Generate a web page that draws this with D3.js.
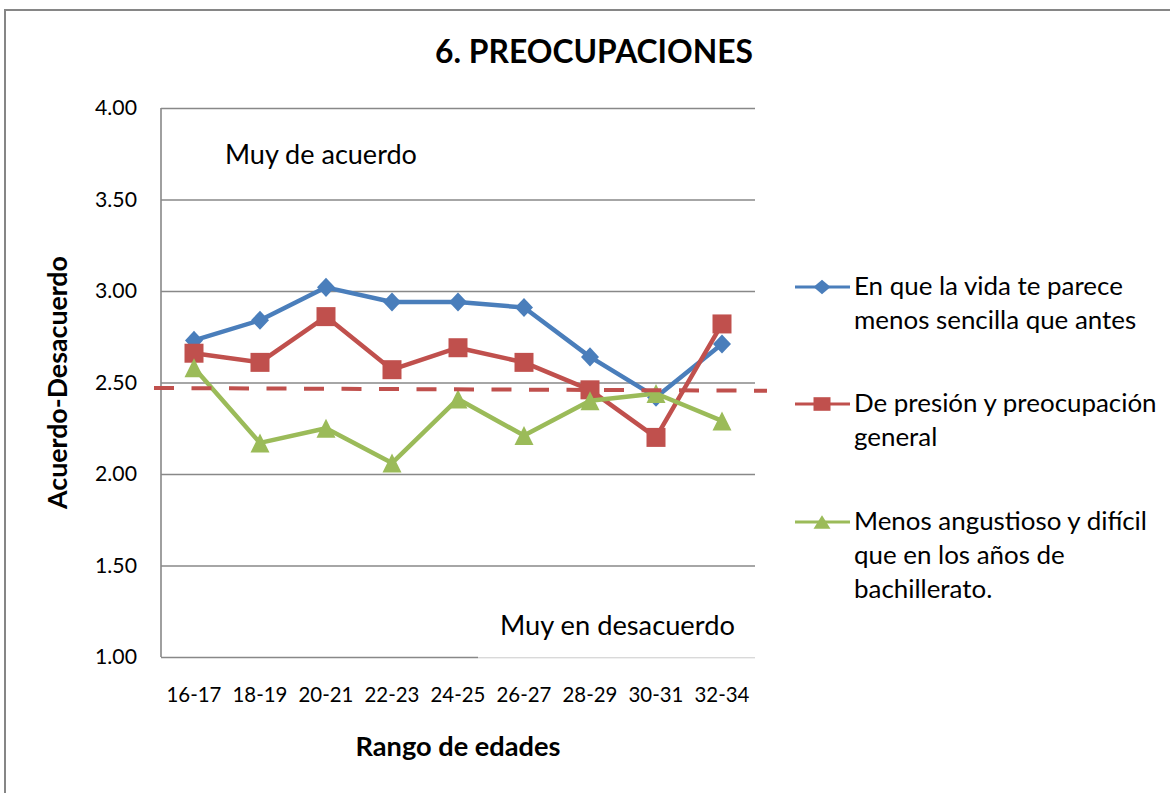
<!DOCTYPE html>
<html>
<head>
<meta charset="utf-8">
<script src="https://cdn.jsdelivr.net/npm/d3@7"></script>
<style>
  html, body { margin: 0; padding: 0; background: #fff; }
  svg { display: block; }
</style>
</head>
<body>
<svg id="chart" width="1170" height="793"></svg>
<script>
// ---------- data ----------
const title = "6. PREOCUPACIONES";
const xTitle = "Rango de edades";
const yTitle = "Acuerdo-Desacuerdo";
const categories = ["16-17", "18-19", "20-21", "22-23", "24-25", "26-27", "28-29", "30-31", "32-34"];
const yTicks = [1.00, 1.50, 2.00, 2.50, 3.00, 3.50, 4.00];
const seriesNames = [
  ["En que la vida te parece", "menos sencilla que antes"],
  ["De presión y preocupación", "general"],
  ["Menos angustioso y difícil", "que en los años de", "bachillerato."]
];
const vidaMenosSencilla = [2.73, 2.84, 3.02, 2.94, 2.94, 2.91, 2.64, 2.42, 2.71];
const presionPreocupacion = [2.66, 2.61, 2.86, 2.57, 2.69, 2.61, 2.46, 2.20, 2.82];
const menosAngustioso = [2.58, 2.17, 2.25, 2.06, 2.41, 2.21, 2.40, 2.44, 2.29];
const referenceLine = [2.47, 2.455];
const annotations = ["Muy de acuerdo", "Muy en desacuerdo"];

// ---------- styles ----------
const colors = ["#4A7EBB", "#C0504D", "#9BBB59"];
const font = "Lato, 'Open Sans', sans-serif";
const gridColor = "#888888";

const svg = d3.select("#chart");
const plot = { left: 161, right: 755, top: 108, bottom: 657 };

const x = d3.scaleBand().domain(categories).range([plot.left, plot.right]);
const cx = c => x(c) + x.bandwidth() / 2;
const y = d3.scaleLinear().domain([1, 4]).range([plot.bottom, plot.top]);

function fit(sel, target) {
  const w = sel.node().getComputedTextLength();
  const fs = parseFloat(sel.attr("font-size"));
  const nfs = fs * target / w;
  sel.attr("font-size", nfs);
  return nfs;
}

// chart border
svg.append("rect").attr("x", 5).attr("y", 10).attr("width", 1300).attr("height", 900)
  .attr("fill", "#fff").attr("stroke", "#868686").attr("stroke-width", 2);

// title
const t = svg.append("text").attr("x", 594).attr("y", 63).attr("text-anchor", "middle")
  .attr("font-family", font).attr("font-weight", "bold").attr("font-size", 30).attr("fill", "#000").text(title);
fit(t, 318);

// gridlines via axis
const yAxis = d3.axisLeft(y).tickValues(yTicks).tickSize(-(plot.right - plot.left)).tickFormat(d3.format(".2f")).tickPadding(24);
const gy = svg.append("g").attr("transform", `translate(${plot.left},0)`).call(yAxis);
gy.select(".domain").remove();
gy.selectAll(".tick line").attr("stroke", gridColor).attr("stroke-width", 1.6);
const yLabels = gy.selectAll(".tick text").attr("font-family", font).attr("font-size", 20).attr("fill", "#000");
const yfs = fit(d3.select(yLabels.nodes()[6]), 42);
yLabels.attr("font-size", yfs);

// left axis line
svg.append("line").attr("x1", plot.left).attr("x2", plot.left).attr("y1", plot.top).attr("y2", plot.bottom)
  .attr("stroke", gridColor).attr("stroke-width", 1.6);

// x axis labels
const xAxis = d3.axisBottom(x).tickSize(0).tickPadding(30);
const gx = svg.append("g").attr("transform", `translate(0,${plot.bottom})`).call(xAxis);
gx.select(".domain").remove();
const xLabels = gx.selectAll(".tick text").attr("font-family", font).attr("font-size", 20).attr("fill", "#000");
const xfs = fit(d3.select(xLabels.nodes()[0]), 55);
xLabels.attr("font-size", xfs);

// axis titles
const xt = svg.append("text").attr("x", (plot.left + plot.right) / 2).attr("y", 756).attr("text-anchor", "middle")
  .attr("font-family", font).attr("font-weight", "bold").attr("font-size", 22).text(xTitle);
fit(xt, 205);
const yt = svg.append("text").attr("transform", `translate(67,${(plot.top + plot.bottom) / 2}) rotate(-90)`)
  .attr("text-anchor", "middle").attr("font-family", font).attr("font-weight", "bold").attr("font-size", 22).text(yTitle);
fit(yt, 253);

// annotation text boxes
const a1 = svg.append("text").attr("x", 225).attr("y", 164).attr("font-family", font).attr("font-size", 24).text(annotations[0]);
fit(a1, 192);
// white box covering axis under lower annotation
svg.append("rect").attr("x", 478).attr("y", 595).attr("width", plot.right - 478).attr("height", plot.bottom - 595 + 1.5).attr("fill", "#fff");
svg.append("line").attr("x1", 478).attr("x2", plot.right).attr("y1", plot.bottom + 0.5).attr("y2", plot.bottom + 0.5)
  .attr("stroke", "#d9d9d9").attr("stroke-width", 1.2);
const a2 = svg.append("text").attr("x", 500).attr("y", 635).attr("font-family", font).attr("font-size", 24).text(annotations[1]);
fit(a2, 235);

// marker shapes
const diamond = { draw(ctx, s) { const w = s * 0.5, h = s * 0.53; ctx.moveTo(0, -h); ctx.lineTo(w, 0); ctx.lineTo(0, h); ctx.lineTo(-w, 0); ctx.closePath(); } };
const square = { draw(ctx, s) { const w = s / 2; ctx.rect(-w, -w, s, s); } };
const triangle = { draw(ctx, s) { const w = s / 2; ctx.moveTo(0, -w); ctx.lineTo(w, w); ctx.lineTo(-w, w); ctx.closePath(); } };
const shapes = [diamond, square, triangle];
const sizes = [18, 19, 19];

const allSeries = [vidaMenosSencilla, presionPreocupacion, menosAngustioso];
const line = d3.line().x((d, i) => cx(categories[i])).y(d => y(d));

allSeries.forEach((vals, si) => {
  const g = svg.append("g");
  g.append("path").datum(vals).attr("d", line).attr("fill", "none")
    .attr("stroke", colors[si]).attr("stroke-width", 4.5).attr("stroke-linejoin", "round");
  g.selectAll("path.m").data(vals).join("path").attr("class", "m")
    .attr("transform", (d, i) => `translate(${cx(categories[i])},${y(d)})`)
    .attr("d", d3.symbol().type(shapes[si]).size(sizes[si]))
    .attr("fill", colors[si]);
});

// dashed reference line
svg.append("line").attr("x1", plot.left - 7).attr("x2", plot.right + 12)
  .attr("y1", y(referenceLine[0])).attr("y2", y(referenceLine[1]))
  .attr("stroke", "#C0504D").attr("stroke-width", 4).attr("stroke-dasharray", "20 17.5");

// legend
const legendY = [287, 404, 522];
const legendTextX = 854;
const lg = svg.append("g");
let lfs = 22;
seriesNames.forEach((lines, si) => {
  const ly = legendY[si];
  lg.append("line").attr("x1", 795).attr("x2", 850).attr("y1", ly).attr("y2", ly)
    .attr("stroke", colors[si]).attr("stroke-width", 3.2);
  lg.append("path").attr("transform", `translate(822,${ly}) scale(1,0.8)`)
    .attr("d", d3.symbol().type(shapes[si]).size(17)).attr("fill", colors[si]);
});
const legendTexts = [];
seriesNames.forEach((lines, si) => {
  lines.forEach((ln, li) => {
    legendTexts.push(lg.append("text").attr("x", legendTextX).attr("y", legendY[si] + 8 + li * 33.8)
      .attr("font-family", font).attr("font-size", lfs).attr("fill", "#000").text(ln));
  });
});
lfs = fit(legendTexts[0], 269);
legendTexts.forEach(tx => tx.attr("font-size", lfs));
</script>
</body>
</html>
